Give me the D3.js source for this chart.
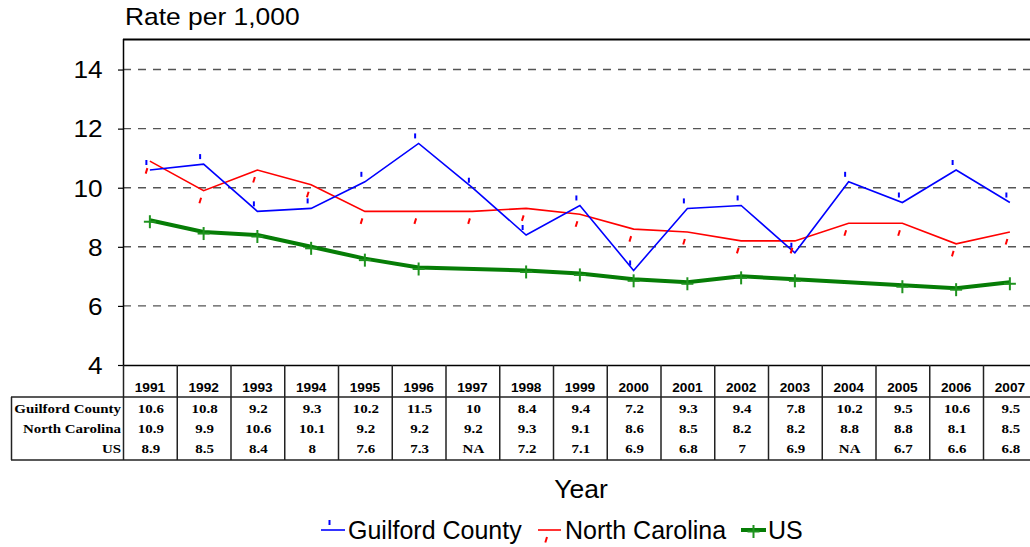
<!DOCTYPE html>
<html>
<head>
<meta charset="utf-8">
<script src="https://cdn.jsdelivr.net/npm/d3@7"></script>
<style>
  html, body { margin: 0; padding: 0; background: #fff; }
  svg { display: block; }
</style>
</head>
<body>
<svg id="chart" width="1030" height="547"></svg>
<script>
// ---- data ----
const years = [1991, 1992, 1993, 1994, 1995, 1996, 1997, 1998, 1999, 2000, 2001, 2002, 2003, 2004, 2005, 2006, 2007];
const guilfordCounty = [10.6, 10.8, 9.2, 9.3, 10.2, 11.5, 10, 8.4, 9.4, 7.2, 9.3, 9.4, 7.8, 10.2, 9.5, 10.6, 9.5];
const northCarolina = [10.9, 9.9, 10.6, 10.1, 9.2, 9.2, 9.2, 9.3, 9.1, 8.6, 8.5, 8.2, 8.2, 8.8, 8.8, 8.1, 8.5];
const us = [8.9, 8.5, 8.4, 8, 7.6, 7.3, null, 7.2, 7.1, 6.9, 6.8, 7, 6.9, null, 6.7, 6.6, 6.8];
const yTicks = [4, 6, 8, 10, 12, 14];
const gridTicks = [6, 8, 10, 12, 14];
const seriesNames = ["Guilford County", "North Carolina", "US"];

// ---- layout ----
const svg = d3.select("#chart");
const plotLeft = 123, plotTop = 39, plotBottom = 365;
const colW = 53.75;
const x = d3.scaleBand().domain(years).range([plotLeft, plotLeft + colW * years.length]).padding(0);
const cx = yr => x(yr) + x.bandwidth() / 2;
const y = d3.scaleLinear().domain([4, 15]).range([plotBottom, plotTop + 1]);

function txt(parent, tx, ty, s, o) {
  const g = parent.append("g").attr("transform", `translate(${tx},${ty}) scale(${o.sx || 1},1)`);
  g.append("text")
    .attr("text-anchor", o.anchor || "start")
    .attr("font-family", o.family || "Liberation Sans, Arial, sans-serif")
    .attr("font-size", o.size)
    .attr("font-weight", o.weight || "normal")
    .attr("fill", o.fill || "#000")
    .text(s);
  return g;
}

// grid
svg.append("g").selectAll("line").data(gridTicks).join("line")
  .attr("x1", plotLeft).attr("x2", 1030)
  .attr("y1", d => y(d)).attr("y2", d => y(d))
  .attr("stroke", "#555").attr("stroke-width", 1.4).attr("stroke-dasharray", "8,7");

// y axis
const yAxis = d3.axisLeft(y).tickValues(yTicks).tickSize(5).tickPadding(12.9).tickFormat(d3.format("d"));
const ya = svg.append("g").attr("transform", `translate(${plotLeft},0)`).call(yAxis);
ya.select(".domain").remove();
ya.selectAll(".tick line").attr("stroke", "#000").attr("stroke-width", 1.2);
ya.selectAll(".tick text")
  .attr("font-family", "Liberation Sans, Arial, sans-serif")
  .attr("font-size", 23).attr("fill", "#000")
  .attr("transform", "scale(1.14,1)")
  .attr("dy", "0.36em");

// frame
svg.append("line").attr("x1", plotLeft).attr("x2", 1030).attr("y1", plotTop + 0.5).attr("y2", plotTop + 0.5).attr("stroke", "#000").attr("stroke-width", 2);
svg.append("line").attr("x1", plotLeft + 0.5).attr("x2", plotLeft + 0.5).attr("y1", plotTop).attr("y2", plotBottom).attr("stroke", "#000").attr("stroke-width", 1.5);
svg.append("line").attr("x1", plotLeft).attr("x2", 1030).attr("y1", plotBottom + 0.5).attr("y2", plotBottom + 0.5).attr("stroke", "#000").attr("stroke-width", 1.5);

// lines
const lineGen = d3.line().x(d => cx(d.yr)).y(d => y(d.v));
function pts(arr) { return years.map((yr, i) => ({ yr, v: arr[i] })).filter(d => d.v != null); }

const gData = pts(guilfordCounty), nData = pts(northCarolina), uData = pts(us);

svg.append("path").datum(nData).attr("d", lineGen).attr("fill", "none").attr("stroke", "#ff0000").attr("stroke-width", 1.6);
svg.append("path").datum(gData).attr("d", lineGen).attr("fill", "none").attr("stroke", "#0000ff").attr("stroke-width", 1.6);
svg.append("path").datum(uData).attr("d", lineGen).attr("fill", "none").attr("stroke", "#067d06").attr("stroke-width", 4);

// markers
function gMark(sel, px, py) {
  sel.append("line").attr("x1", px - 3.5).attr("x2", px - 3.5).attr("y1", py - 10).attr("y2", py - 5)
    .attr("stroke", "#0000ff").attr("stroke-width", 2);
}
function nMark(sel, px, py) {
  sel.append("line").attr("x1", px - 2.5).attr("x2", px - 4.2).attr("y1", py + 7).attr("y2", py + 12.5)
    .attr("stroke", "#ff0000").attr("stroke-width", 2);
}
function uMark(sel, px, py) {
  sel.append("line").attr("x1", px - 6).attr("x2", px + 6).attr("y1", py + 1.5).attr("y2", py + 1.5).attr("stroke", "#1f931f").attr("stroke-width", 2);
  sel.append("line").attr("x1", px).attr("x2", px).attr("y1", py - 5).attr("y2", py + 8).attr("stroke", "#1f931f").attr("stroke-width", 2);
}
const mk = svg.append("g");
gData.forEach(d => gMark(mk, cx(d.yr), y(d.v)));
nData.forEach(d => nMark(mk, cx(d.yr), y(d.v)));
uData.forEach(d => uMark(mk, cx(d.yr), y(d.v)));

// titles
txt(svg, 125, 25, "Rate per 1,000", { size: 24, sx: 1.1 });
txt(svg, 581, 498, "Year", { size: 25, sx: 1.06, anchor: "middle" });

// data table
const tb = svg.append("g");
const tLeft = 11, hdrBottom = 397, tBottom = 460;
const lineC = "#222";
tb.append("line").attr("x1", tLeft).attr("x2", 1030).attr("y1", hdrBottom).attr("y2", hdrBottom).attr("stroke", lineC).attr("stroke-width", 1.5);
tb.append("line").attr("x1", tLeft).attr("x2", 1030).attr("y1", tBottom).attr("y2", tBottom).attr("stroke", lineC).attr("stroke-width", 1.5);
tb.append("line").attr("x1", tLeft + 0.5).attr("x2", tLeft + 0.5).attr("y1", hdrBottom).attr("y2", tBottom).attr("stroke", lineC).attr("stroke-width", 1.5);
tb.selectAll("line.col").data(years).join("line").attr("class", "col")
  .attr("x1", d => x(d) + 0.5).attr("x2", d => x(d) + 0.5)
  .attr("y1", plotBottom).attr("y2", tBottom).attr("stroke", lineC).attr("stroke-width", 1.5);
tb.append("line").attr("x1", x(years[years.length - 1]) + colW).attr("x2", x(years[years.length - 1]) + colW)
  .attr("y1", plotBottom).attr("y2", tBottom).attr("stroke", lineC).attr("stroke-width", 1.5);

years.forEach(yr => txt(tb, cx(yr), 392, String(yr), { size: 12, weight: "bold", anchor: "middle", sx: 1.14 }));

const rows = [guilfordCounty, northCarolina, us];
const rowY = [413, 433, 453];
const serif = "Liberation Serif, Times New Roman, serif";
rows.forEach((arr, r) => {
  txt(tb, 121, rowY[r], seriesNames[r], { size: 13, weight: "bold", anchor: "end", family: serif, sx: 1.15 });
  arr.forEach((v, i) => {
    txt(tb, cx(years[i]) + 1, rowY[r], v == null ? "NA" : String(v), { size: 13, weight: "bold", anchor: "middle", family: serif, sx: 1.15 });
  });
});

// legend
const lg = svg.append("g");
const legendItems = [
  { x1: 321, x2: 345, color: "#0000ff", w: 1.6, mark: gMark, tx: 348, name: seriesNames[0] },
  { x1: 538, x2: 561, color: "#ff0000", w: 1.6, mark: nMark, tx: 565, name: seriesNames[1] },
  { x1: 741, x2: 766, color: "#067d06", w: 4, mark: uMark, tx: 768, name: seriesNames[2] }
];
legendItems.forEach(it => {
  lg.append("line").attr("x1", it.x1).attr("x2", it.x2).attr("y1", 530).attr("y2", 530).attr("stroke", it.color).attr("stroke-width", it.w);
  it.mark(lg, (it.x1 + it.x2) / 2, 530);
  txt(lg, it.tx, 539, it.name, { size: 25 });
});
</script>
</body>
</html>
